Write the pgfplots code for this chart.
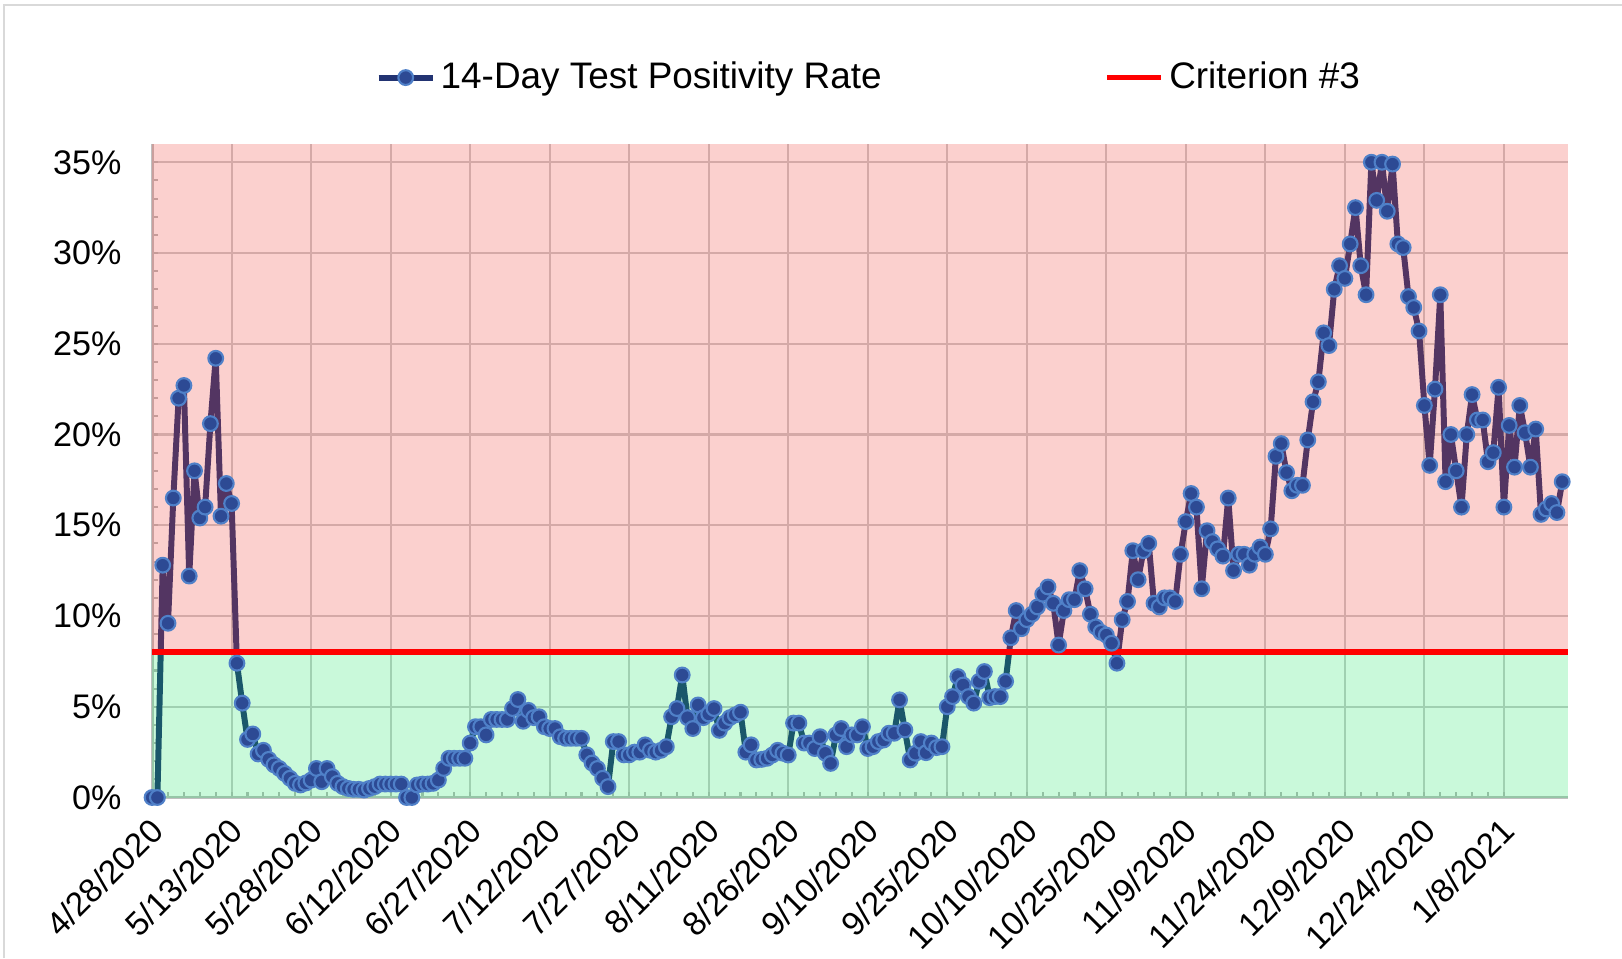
\documentclass[border=0pt]{standalone}
\usepackage{pgfplots}
\pgfplotsset{compat=1.18}
\usepackage{pgfplotstable}
\usepackage{fontspec}
\setmainfont{Liberation Sans}
\definecolor{navyline}{HTML}{223372}
\definecolor{markfill}{HTML}{2D4A94}
\definecolor{markdraw}{HTML}{4F80C8}
\definecolor{redov}{RGB}{240,60,50}
\definecolor{greenov}{RGB}{0,225,80}

\pgfplotstableread{
day val
0 0
1 0
2 12.8
3 9.6
4 16.5
5 22.0
6 22.7
7 12.2
8 18.0
9 15.4
10 16.0
11 20.6
12 24.2
13 15.5
14 17.3
15 16.2
16 7.4
17 5.2
18 3.2
19 3.5
20 2.4
21 2.6
22 2.1
23 1.8
24 1.6
25 1.33
26 1.06
27 0.78
28 0.69
29 0.8
30 0.96
31 1.6
32 0.87
33 1.6
34 1.15
35 0.78
36 0.6
37 0.5
38 0.45
39 0.45
40 0.41
41 0.5
42 0.6
43 0.74
44 0.74
45 0.74
46 0.74
47 0.74
48 0
49 0
50 0.69
51 0.74
52 0.74
53 0.78
54 0.96
55 1.6
56 2.16
57 2.16
58 2.16
59 2.16
60 3.0
61 3.9
62 3.9
63 3.45
64 4.3
65 4.3
66 4.3
67 4.3
68 4.9
69 5.4
70 4.2
71 4.8
72 4.4
73 4.45
74 3.9
75 3.8
76 3.8
77 3.35
78 3.26
79 3.26
80 3.26
81 3.26
82 2.35
83 1.9
84 1.6
85 1.06
86 0.6
87 3.08
88 3.08
89 2.35
90 2.35
91 2.5
92 2.5
93 2.9
94 2.6
95 2.5
96 2.6
97 2.8
98 4.45
99 4.9
100 6.75
101 4.4
102 3.8
103 5.1
104 4.4
105 4.6
106 4.9
107 3.7
108 4.1
109 4.4
110 4.55
111 4.7
112 2.5
113 2.9
114 2.07
115 2.1
116 2.16
117 2.34
118 2.6
119 2.44
120 2.34
121 4.1
122 4.1
123 3.0
124 3.0
125 2.7
126 3.35
127 2.44
128 1.88
129 3.45
130 3.8
131 2.8
132 3.45
133 3.45
134 3.9
135 2.7
136 2.8
137 3.08
138 3.17
139 3.54
140 3.54
141 5.38
142 3.72
143 2.07
144 2.44
145 3.08
146 2.47
147 3.0
148 2.75
149 2.8
150 5.0
151 5.56
152 6.66
153 6.2
154 5.56
155 5.2
156 6.4
157 6.94
158 5.5
159 5.56
160 5.56
161 6.4
162 8.8
163 10.3
164 9.3
165 9.8
166 10.1
167 10.5
168 11.2
169 11.6
170 10.7
171 8.4
172 10.3
173 10.9
174 10.9
175 12.5
176 11.5
177 10.1
178 9.4
179 9.1
180 8.95
181 8.5
182 7.4
183 9.8
184 10.8
185 13.6
186 12.0
187 13.6
188 14.0
189 10.7
190 10.5
191 11.0
192 11.0
193 10.8
194 13.4
195 15.2
196 16.75
197 16.0
198 11.5
199 14.7
200 14.1
201 13.7
202 13.3
203 16.5
204 12.5
205 13.4
206 13.4
207 12.8
208 13.4
209 13.8
210 13.4
211 14.8
212 18.8
213 19.5
214 17.9
215 16.9
216 17.2
217 17.2
218 19.7
219 21.8
220 22.9
221 25.6
222 24.9
223 28.0
224 29.3
225 28.6
226 30.5
227 32.5
228 29.3
229 27.7
230 35.0
231 32.9
232 35.0
233 32.3
234 34.9
235 30.5
236 30.3
237 27.6
238 27.0
239 25.7
240 21.6
241 18.3
242 22.5
243 27.7
244 17.4
245 20.0
246 18.0
247 16.0
248 20.0
249 22.2
250 20.8
251 20.8
252 18.5
253 19.0
254 22.6
255 16.0
256 20.5
257 18.2
258 21.6
259 20.1
260 18.2
261 20.3
262 15.6
263 15.9
264 16.2
265 15.7
266 17.4
}\ratedata

\pgfplotstableread{
day val
0 8
267 8
}\critdata

\begin{document}
\begin{tikzpicture}
\path[use as bounding box] (0,0) rectangle (16.22cm,9.58cm);
\draw[gray!30, line width=0.8pt] (0.04cm,0) -- (0.04cm,9.53cm) -- (16.22cm,9.53cm);
\begin{axis}[
  at={(1.521cm,1.605cm)}, anchor=south west,
  width=14.154cm, height=6.534cm, scale only axis,
  xmin=0, xmax=267, ymin=0, ymax=36,
  clip=false,
  axis x line*=bottom, axis y line*=left,
  axis line style={gray!50, line width=0.8pt, -},
  tick align=inside,
  major tick length=0.06cm, minor tick length=0.06cm,
  tick style={gray!55, line width=0.6pt},
  xtick={0,15,...,255},
  xticklabels={4/28/2020,5/13/2020,5/28/2020,6/12/2020,6/27/2020,7/12/2020,7/27/2020,8/11/2020,8/26/2020,9/10/2020,9/25/2020,10/10/2020,10/25/2020,11/9/2020,11/24/2020,12/9/2020,12/24/2020,1/8/2021},
  minor x tick num=4,
  ytick={0,5,...,35},
  yticklabels={0\%,5\%,10\%,15\%,20\%,25\%,30\%,35\%},
  minor y tick num=4,
  xmajorgrids, ymajorgrids,
  major grid style={gray!40, line width=0.6pt},
  yticklabel style={font=\fontsize{9.7}{11}\selectfont, inner sep=0pt, xshift=-0.3cm},
  xticklabel style={font=\fontsize{9.5}{11}\selectfont, xshift=-0.04cm, yshift=-0.18cm, rotate=45, anchor=north east, inner sep=0pt},
  legend style={at={(0.1575,1.1018)}, anchor=west, draw=none, fill=none,
    inner sep=0pt, font=\fontsize{10.5}{12}\selectfont,
    nodes={inner xsep=0.05cm, inner ysep=1pt},
    /tikz/every even column/.append style={column sep=2.18cm}},
  legend columns=2,
  legend cell align=left,
  legend image code/.code={\draw[mark repeat=2,mark phase=2,#1] plot coordinates {(0cm,0cm) (0.27cm,0cm) (0.54cm,0cm)};},
]
\addplot[navyline, line width=1.7pt, line join=round, mark=*, mark size=2.1pt,
  mark options={fill=markfill, draw=markdraw, line width=0.6pt}]
  table[x=day,y=val] {\ratedata};
\addlegendentry{14-Day Test Positivity Rate}
\addplot[forget plot, draw=none, fill=redov, fill opacity=0.24]
  coordinates {(0,8) (267,8) (267,36) (0,36)} -- cycle;
\addplot[forget plot, draw=none, fill=greenov, fill opacity=0.21]
  coordinates {(0,0) (267,0) (267,8) (0,8)} -- cycle;
\addplot[red, line width=1.6pt, mark=none] table[x=day,y=val] {\critdata};
\addlegendentry{Criterion \#3}
\end{axis}
\end{tikzpicture}
\end{document}
